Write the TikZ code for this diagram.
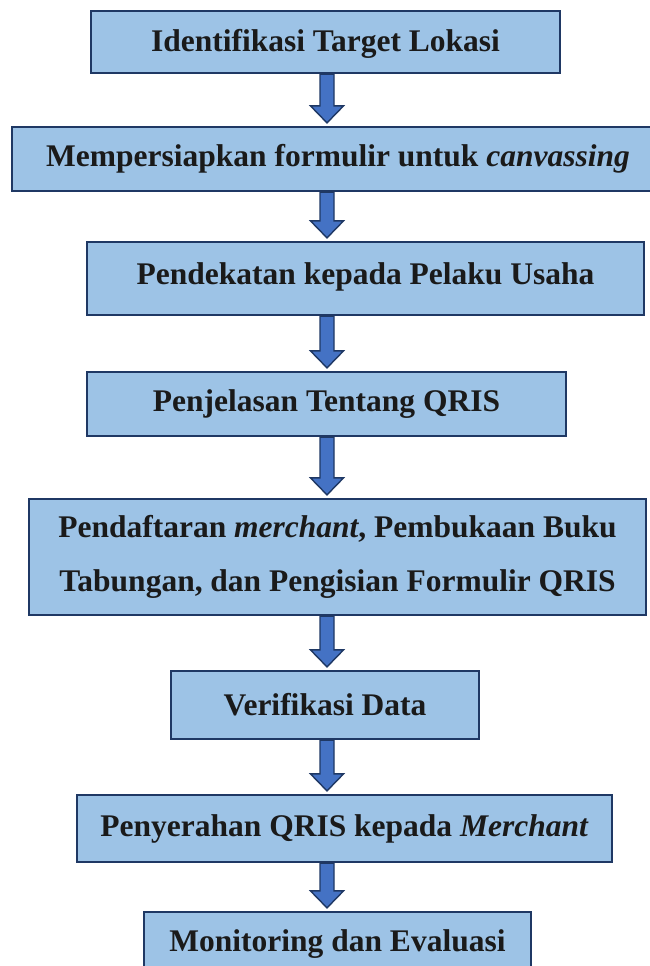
\documentclass[tikz,border=0pt]{standalone}
\usepackage{fontspec}
\setmainfont{LiberationSerif}[Extension=.ttf, UprightFont=*-Regular,
  BoldFont=*-Bold, ItalicFont=*-Italic, BoldItalicFont=*-BoldItalic]
\usepackage{xcolor}
\usetikzlibrary{calc}

\definecolor{boxfill}{HTML}{9DC3E6}
\definecolor{boxline}{HTML}{1F3864}
\definecolor{arrowfill}{HTML}{4472C4}
\definecolor{inktext}{HTML}{1A1A1A}

\tikzset{
  stepbox/.style={draw=boxline, fill=boxfill, line width=2.2pt, inner sep=0pt,
    align=center, text=inktext,
    font=\bfseries\fontsize{31.5}{54}\selectfont},
  blockarrow/.style={draw=boxline, fill=arrowfill, line width=1.4pt, line join=miter}
}

% block arrow from the bottom of one box to the top of the next
\newcommand{\flowarrow}[2]{%
  \draw[blockarrow] let \p1=(axis |- #1.south), \p2=(axis |- #2.north) in
    (\x1-7pt,\y1) -- (\x1+7pt,\y1) -- (\x1+7pt,\y2+20pt) -- (\x1+16.5pt,\y2+20pt)
    -- (\x2,\y2+3pt) -- (\x1-16.5pt,\y2+20pt) -- (\x1-7pt,\y2+20pt) -- cycle;}

\begin{document}
\begin{tikzpicture}[x=1pt, y=-1pt]
    \useasboundingbox (0,0) rectangle (649,966);
    \coordinate (axis) at (327,0);

    % Steps
    \node[stepbox, minimum width=469, minimum height=62, text height=21pt, text depth=2pt]
        (lokasi) at (325.5,42) {Identifikasi Target Lokasi};
    \node[stepbox, minimum width=652, minimum height=64] (formulir) at (338,159)
        {Mempersiapkan formulir untuk \textit{canvassing}};
    \node[stepbox, minimum width=557, minimum height=73, text height=22pt, text depth=11pt]
        (pendekatan) at (365.5,278.5) {Pendekatan kepada Pelaku Usaha};
    \node[stepbox, minimum width=479, minimum height=64] (penjelasan) at (326.5,404)
        {Penjelasan Tentang QRIS};
    \node[stepbox, minimum width=617, minimum height=116] (pendaftaran) at (337.5,557)
        {Pendaftaran \textit{merchant}, Pembukaan Buku\\Tabungan, dan Pengisian Formulir QRIS};
    \node[stepbox, minimum width=308, minimum height=68] (verifikasi) at (325,705)
        {Verifikasi Data};
    \node[stepbox, minimum width=535, minimum height=67] (penyerahan) at (344.5,828.5)
        {Penyerahan QRIS kepada \textit{Merchant}};
    \node[stepbox, minimum width=387, minimum height=64] (monitoring) at (337.5,944)
        {Monitoring dan Evaluasi};

    % Arrows
    \flowarrow{lokasi}{formulir}
    \flowarrow{formulir}{pendekatan}
    \flowarrow{pendekatan}{penjelasan}
    \flowarrow{penjelasan}{pendaftaran}
    \flowarrow{pendaftaran}{verifikasi}
    \flowarrow{verifikasi}{penyerahan}
    \flowarrow{penyerahan}{monitoring}
\end{tikzpicture}
\end{document}
